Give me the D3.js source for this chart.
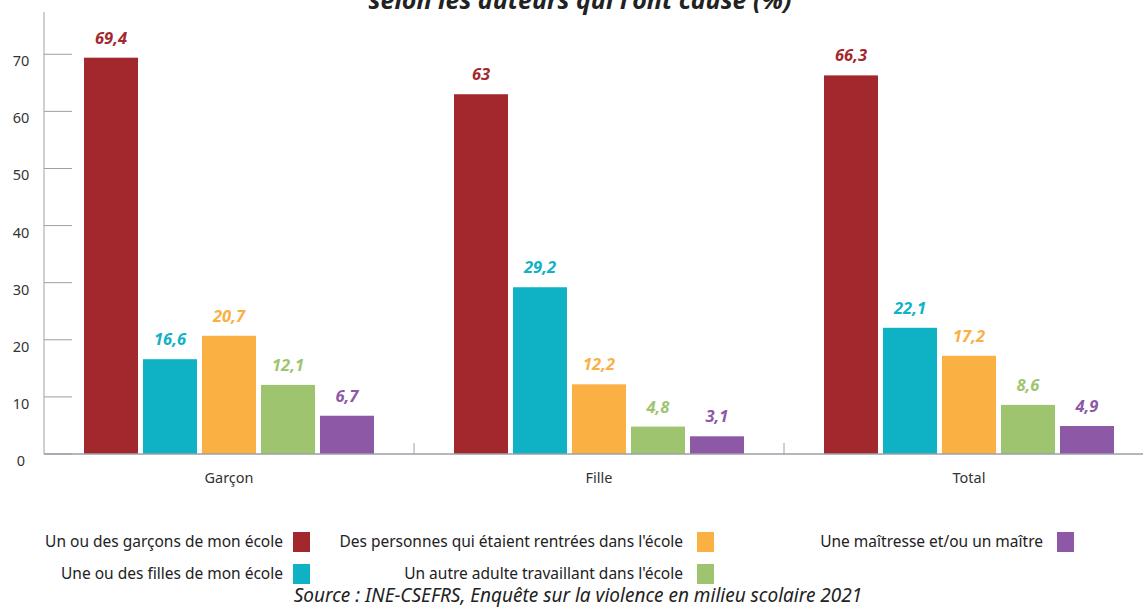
<!DOCTYPE html>
<html>
<head>
<meta charset="utf-8">
<script src="https://cdn.jsdelivr.net/npm/d3@7"></script>
<style>
  body { margin: 0; background: #fff; }
  text { font-family: "Noto Sans", "Open Sans", sans-serif; }
</style>
</head>
<body>
<div id="chart"></div>
<script>
// data
var categories = ["Garçon", "Fille", "Total"];
var series = [
  "Un ou des garçons de mon école",
  "Une ou des filles de mon école",
  "Des personnes qui étaient rentrées dans l'école",
  "Un autre adulte travaillant dans l'école",
  "Une maîtresse et/ou un maître"
];
var garconValues = [69.4, 16.6, 20.7, 12.1, 6.7];
var filleValues = [63, 29.2, 12.2, 4.8, 3.1];
var totalValues = [66.3, 22.1, 17.2, 8.6, 4.9];
var valueLabels = [
  ["69,4", "16,6", "20,7", "12,1", "6,7"],
  ["63", "29,2", "12,2", "4,8", "3,1"],
  ["66,3", "22,1", "17,2", "8,6", "4,9"]
];
var yTicks = [0, 10, 20, 30, 40, 50, 60, 70];
var colors = ["#A3282E", "#0FB1C5", "#FAB042", "#9EC46F", "#8D58A5"];

var allValues = [garconValues, filleValues, totalValues];

var width = 1143, height = 610;

var svg = d3.select("#chart").append("svg")
    .attr("width", width)
    .attr("height", height);

// title (only its lower part is visible, like the original)
svg.append("text")
    .attr("x", 580)
    .attr("y", 9)
    .attr("text-anchor", "middle")
    .style("font-size", "25px")
    .style("font-weight", "bold")
    .style("font-style", "italic")
    .style("fill", "#222")
    .text("selon les auteurs qui l'ont causé (%)");

var x0 = d3.scaleBand()
    .domain(categories)
    .range([44, 1154]);

var x1 = d3.scaleBand()
    .domain(d3.range(series.length))
    .range([40, 330])
    .paddingInner(0.085);

var y = d3.scaleLinear()
    .domain([0, 77.4])
    .range([454, 12]);

// y axis line
svg.append("line")
    .attr("x1", 44).attr("x2", 44)
    .attr("y1", y(77.4)).attr("y2", y(0))
    .style("stroke", "#9aa0a8")
    .style("stroke-width", 1);

// y ticks
svg.selectAll(".ytick")
    .data(yTicks)
    .enter().append("line")
    .attr("class", "ytick")
    .attr("x1", 44).attr("x2", 72)
    .attr("y1", function(d) { return y(d); })
    .attr("y2", function(d) { return y(d); })
    .style("stroke", "#9aa0a8")
    .style("stroke-width", 1);

svg.selectAll(".ylabel")
    .data(yTicks)
    .enter().append("text")
    .attr("class", "ylabel")
    .attr("x", 21)
    .attr("y", function(d) { return y(d) + 12; })
    .attr("text-anchor", "middle")
    .style("font-size", "14.5px")
    .style("fill", "#333")
    .text(function(d) { return d; });

// bars
var groups = svg.selectAll(".group")
    .data(categories)
    .enter().append("g")
    .attr("class", "group")
    .attr("transform", function(d) { return "translate(" + x0(d) + ",0)"; });

groups.selectAll("rect")
    .data(function(d, i) { return allValues[i].map(function(v, j) { return {v: v, j: j, c: i}; }); })
    .enter().append("rect")
    .attr("x", function(d) { return x1(d.j); })
    .attr("y", function(d) { return y(d.v); })
    .attr("width", x1.bandwidth())
    .attr("height", function(d) { return y(0) - y(d.v); })
    .style("fill", function(d) { return colors[d.j]; });

groups.selectAll(".val")
    .data(function(d, i) { return allValues[i].map(function(v, j) { return {v: v, j: j, c: i}; }); })
    .enter().append("text")
    .attr("class", "val")
    .attr("x", function(d) { return x1(d.j) + x1.bandwidth() / 2; })
    .attr("y", function(d) { return y(d.v) - 14; })
    .attr("text-anchor", "middle")
    .style("font-size", "16.5px")
    .style("font-weight", "bold")
    .style("font-style", "italic")
    .style("fill", function(d) { return colors[d.j]; })
    .text(function(d) { return valueLabels[d.c][d.j]; });

// baseline
svg.append("line")
    .attr("x1", 44).attr("x2", width)
    .attr("y1", y(0)).attr("y2", y(0))
    .style("stroke", "#9aa0a8")
    .style("stroke-width", 1.5);

// category separators
svg.selectAll(".sep")
    .data(categories.slice(1))
    .enter().append("line")
    .attr("class", "sep")
    .attr("x1", function(d) { return x0(d); })
    .attr("x2", function(d) { return x0(d); })
    .attr("y1", y(0) - 11).attr("y2", y(0))
    .style("stroke", "#9aa0a8")
    .style("stroke-width", 1);

// category labels
svg.selectAll(".cat")
    .data(categories)
    .enter().append("text")
    .attr("class", "cat")
    .attr("x", function(d) { return x0(d) + 185; })
    .attr("y", 483)
    .attr("text-anchor", "middle")
    .style("font-size", "14.5px")
    .style("fill", "#333")
    .text(function(d) { return d; });

// legend
var legendPos = [
  {x: 283, y: 542},
  {x: 283, y: 574},
  {x: 683, y: 542},
  {x: 683, y: 574},
  {x: 1043, y: 542}
];

var legend = svg.selectAll(".legend")
    .data(series)
    .enter().append("g")
    .attr("class", "legend")
    .attr("transform", function(d, i) { return "translate(" + legendPos[i].x + "," + legendPos[i].y + ")"; });

legend.append("text")
    .attr("x", 0)
    .attr("y", 5)
    .attr("text-anchor", "end")
    .style("font-size", "15.5px")
    .style("fill", "#222")
    .text(function(d) { return d; });

legend.append("rect")
    .attr("x", function(d, i) { return i < 2 ? 10 : 14; })
    .attr("y", -10)
    .attr("width", 17)
    .attr("height", 20)
    .style("fill", function(d, i) { return colors[i]; });

// source
svg.append("text")
    .attr("x", 578)
    .attr("y", 602)
    .attr("text-anchor", "middle")
    .style("font-size", "19px")
    .style("font-style", "italic")
    .style("fill", "#222")
    .text("Source : INE-CSEFRS, Enquête sur la violence en milieu scolaire 2021");
</script>
</body>
</html>
